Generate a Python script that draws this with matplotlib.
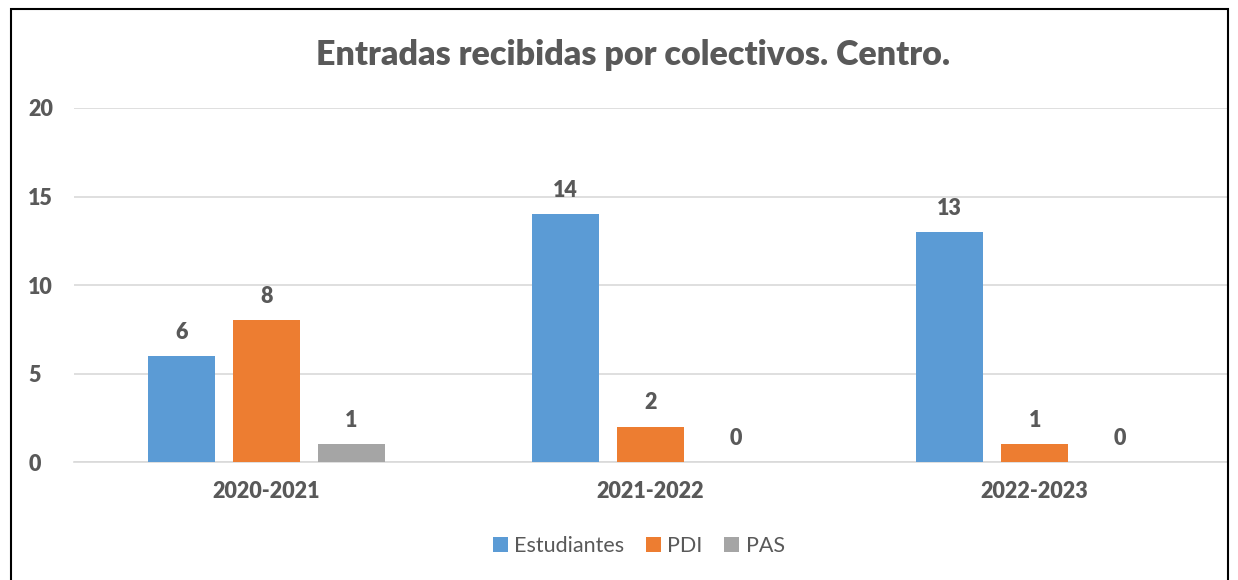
import numpy as np
import matplotlib.pyplot as plt
from matplotlib.patches import Rectangle

years = ["2020-2021", "2021-2022", "2022-2023"]
estudiantes = [6, 14, 13]
pdi = [8, 2, 1]
pas = [1, 0, 0]

series = [("Estudiantes", estudiantes, "#5b9bd5"),
          ("PDI", pdi, "#ed7d31"),
          ("PAS", pas, "#a5a5a5")]

plt.rcParams['font.family'] = ['Lato', 'DejaVu Sans']
txt = "#595959"

fig = plt.figure(figsize=(12.38, 5.8), dpi=100)
ax = fig.add_axes([0.0598, 0.2034, 0.9312, 0.6104])

x = np.arange(len(years))
width = 0.174
step = 0.221
for i, (name, vals, col) in enumerate(series):
    pos = x + (i - 1) * step
    bars = ax.bar(pos, vals, width, color=col, label=name, zorder=3)
    for b, v in zip(bars, vals):
        ax.text(b.get_x() + b.get_width() / 2, v + 0.75, str(v), ha="center",
                va="bottom", fontsize=15.5, fontweight="heavy", color=txt)

ax.set_xlim(-0.5, 2.5)
ax.set_ylim(0, 20)
ax.set_yticks([0, 5, 10, 15, 20])
ax.set_xticks(x)
ax.set_xticklabels(years)
ax.grid(axis="y", color="#d9d9d9", linewidth=1.2, zorder=0)
for s in ["top", "right", "left"]:
    ax.spines[s].set_visible(False)
ax.spines["bottom"].set_color("#d9d9d9")
ax.spines["bottom"].set_linewidth(1.2)
ax.tick_params(length=0, labelsize=15.5, colors=txt, pad=14)
ax.tick_params(axis="y", pad=33)
for lab in ax.get_xticklabels() + ax.get_yticklabels():
    lab.set_fontweight("heavy")
for lab in ax.get_yticklabels():
    lab.set_horizontalalignment("left")

fig.text(0.511, 0.905, "Entradas recibidas por colectivos. Centro.", ha="center",
         va="center", fontsize=24.5, fontweight="heavy", color=txt)

leg = fig.legend(loc="center", bbox_to_anchor=(0.516, 0.058), ncol=3, frameon=False,
                 fontsize=15.5, handlelength=0.7, handleheight=0.7, columnspacing=1.0,
                 handletextpad=0.3)
for t in leg.get_texts():
    t.set_color(txt)

fig.patches.append(Rectangle((11 / 1238, -0.01), 1217 / 1238, 1 - 9 / 580 + 0.01,
                             transform=fig.transFigure, fill=False,
                             edgecolor="black", linewidth=1.5))

fig.savefig("out.png", dpi=100)
